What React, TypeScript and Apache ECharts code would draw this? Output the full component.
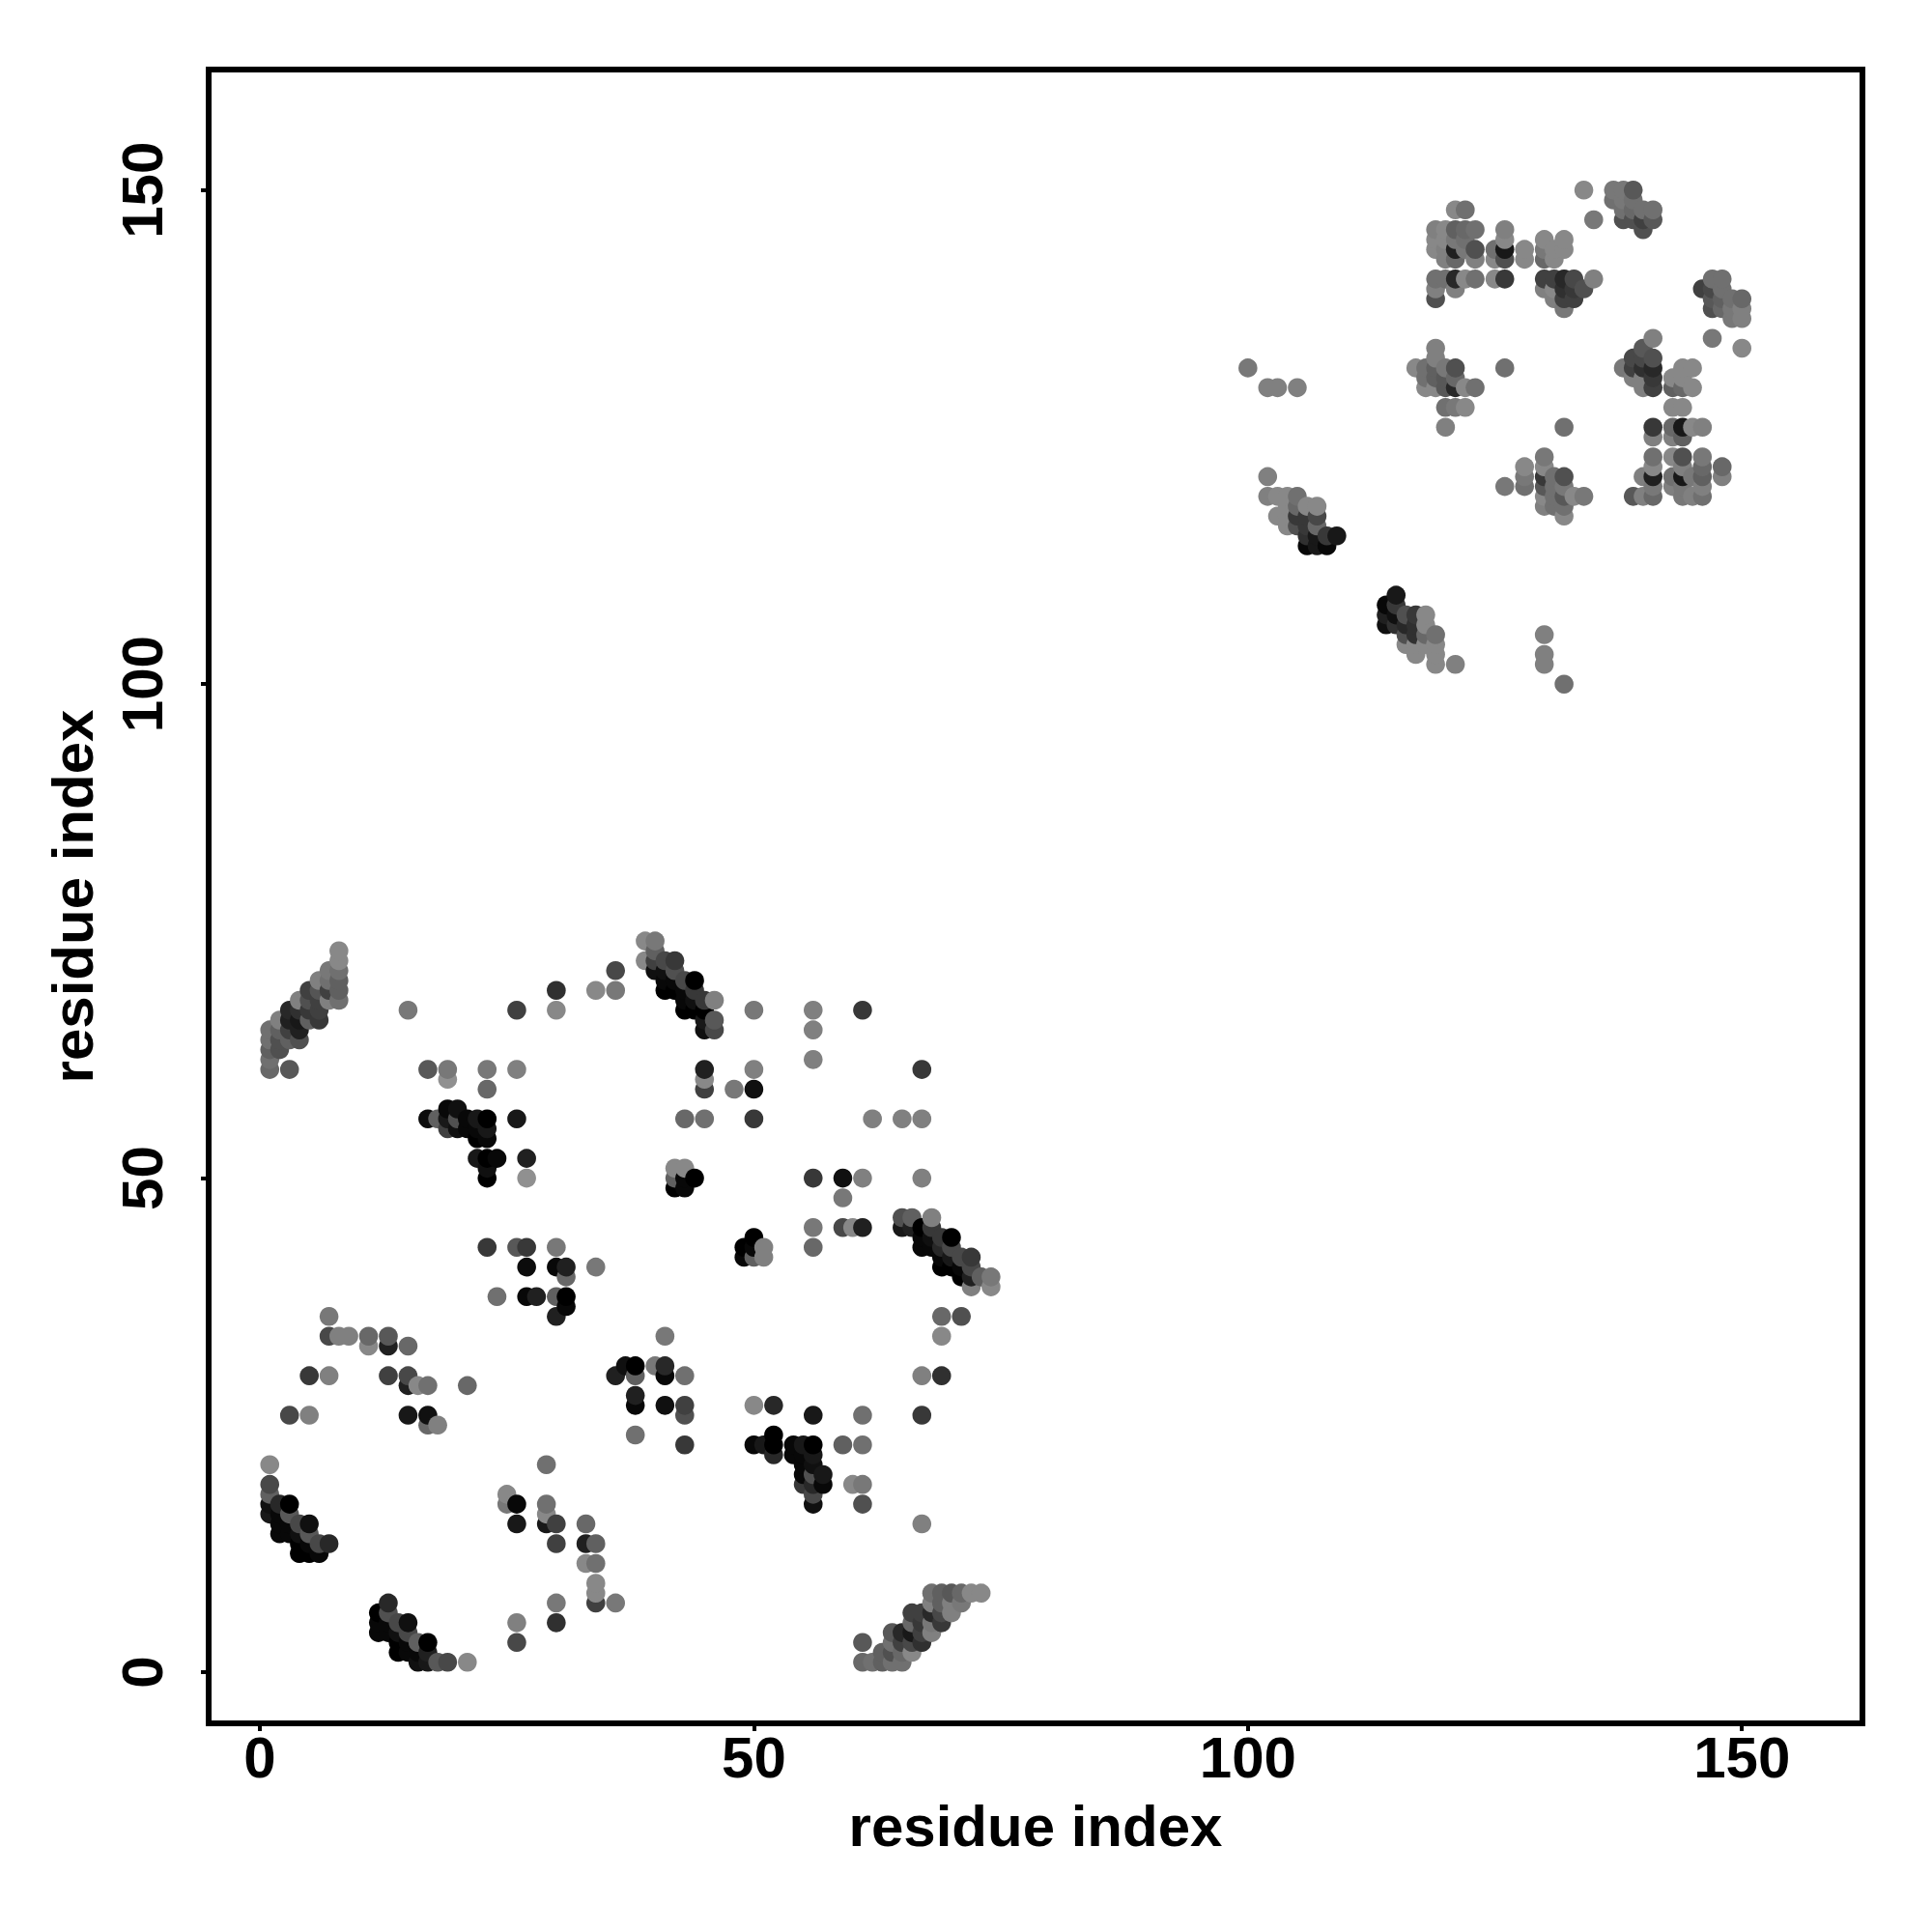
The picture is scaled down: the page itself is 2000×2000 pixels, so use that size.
import React, { useEffect, useRef } from "react";
import * as echarts from "echarts";

// [residue i, residue j, grey level]
const blockTopLeft: number[][] = [
  [8,73,0x88],[8,72,0x88],[8,71,0x70],[8,70,0x60],[8,69,0x60],[8,68,0x70],[7,71,0x78],[7,70,0x70],[7,69,0x40],[7,68,0x80],
  [6,70,0x80],[6,69,0x55],[6,68,0x40],[6,67,0x40],[6,66,0x38],[5,69,0x40],[5,68,0x50],[5,67,0x38],[5,66,0x60],
  [4,68,0x80],[4,67,0x30],[4,66,0x18],[4,65,0x20],[4,64,0x50],[3,67,0x28],[3,66,0x20],[3,65,0x40],[3,64,0x60],[3,61,0x58],
  [2,66,0x80],[2,65,0x60],[2,64,0x50],[2,63,0x50],[1,65,0x70],[1,64,0x70],[1,63,0x60],[1,62,0x70],[1,61,0x68],
];
const scatterUpperA: number[][] = [
  [15,67,0x78],[26,67,0x40],[30,67,0x88],[30,69,0x30],[34,69,0x88],[36,69,0x78],[36,71,0x48],
  [17,61,0x58],[19,61,0x78],[19,60,0x90],[23,61,0x78],[23,59,0x68],[26,61,0x80],[26,56,0x18],
  [27,52,0x20],[27,50,0x90],
];
const blockMid: number[][] = [
  [17,56,0x0c],[18,56,0x60],[19,57,0x08],[20,57,0x10],[19,56,0x18],[20,56,0x50],[19,55,0x40],[20,55,0x10],[21,56,0x08],[22,56,0x18],
  [23,56,0x00],[21,55,0x08],[22,55,0x08],[23,55,0x18],[22,54,0x00],[23,54,0x08],[22,52,0x18],[23,52,0x00],[24,52,0x08],[23,51,0x10],[23,50,0x00],
];
const scatterMid: number[][] = [
  [23,43,0x38],[26,43,0x58],[27,43,0x38],[30,43,0x78],[27,41,0x0c],[30,41,0x08],[31,41,0x20],[31,40,0x68],[34,41,0x78],
  [24,38,0x70],[27,38,0x08],[28,38,0x20],[30,38,0x60],[31,38,0x00],[31,37,0x08],[30,36,0x20],
  [7,36,0x78],[7,34,0x48],[8,34,0x80],[9,34,0x80],[11,34,0x68],[11,33,0x88],[13,34,0x58],[13,33,0x20],[15,33,0x68],
  [5,30,0x38],[7,30,0x80],[13,30,0x40],[15,30,0x48],[15,29,0x20],[16,29,0x88],[17,29,0x70],[21,29,0x68],
  [3,26,0x48],[5,26,0x80],[15,26,0x18],[17,26,0x10],[17,25,0x68],[18,25,0x80],
];
const blockDiagUpper: number[][] = [
  [39,74,0x88],[40,74,0x78],[39,72,0x88],[40,73,0x60],[40,72,0x40],[41,72,0x48],[42,72,0x38],[40,71,0x10],[41,71,0x10],[42,71,0x50],
  [41,70,0x08],[42,70,0x08],[43,70,0x48],[44,70,0x00],[41,69,0x00],[42,69,0x00],[43,69,0x08],[44,69,0x38],[43,68,0x08],[43,67,0x00],
  [44,68,0x10],[45,68,0x38],[46,68,0x80],[44,67,0x00],[45,67,0x00],[45,66,0x18],[46,66,0x58],[45,65,0x10],[46,65,0x48],
];
const scatterUpperB: number[][] = [
  [50,67,0x78],[56,67,0x80],[56,65,0x80],[56,62,0x80],[61,67,0x38],[45,61,0x20],[45,60,0x88],[45,59,0x40],[50,61,0x80],[50,59,0x10],[48,59,0x78],[67,61,0x38],
  [43,56,0x68],[45,56,0x70],[50,56,0x38],[62,56,0x80],[65,56,0x80],[67,56,0x80],[43,51,0x88],[42,51,0x88],[44,50,0x00],[43,50,0x08],[43,49,0x08],[42,49,0x00],[42,50,0x60],
  [56,50,0x38],[59,50,0x10],[61,50,0x80],[67,50,0x80],[59,48,0x78],[56,45,0x78],[56,43,0x68],[59,45,0x48],[60,45,0x88],[61,45,0x20],[41,34,0x78],
  [50,44,0x00],[49,43,0x00],[50,43,0x08],[51,43,0x80],[49,42,0x08],[50,42,0x60],[51,42,0x80],
];
const blockDiagMid: number[][] = [
  [65,46,0x50],[66,46,0x60],[68,46,0x80],[65,45,0x18],[66,45,0x20],[67,45,0x00],[68,45,0x38],[67,44,0x08],[68,44,0x10],[69,44,0x38],[70,44,0x00],
  [67,43,0x08],[68,43,0x08],[69,43,0x28],[70,43,0x48],[69,42,0x08],[70,42,0x18],[71,42,0x48],[72,42,0x38],[69,41,0x00],[70,41,0x00],[71,41,0x08],[72,41,0x48],
  [71,40,0x00],[72,40,0x20],[73,40,0x60],[74,40,0x78],[72,39,0x80],[74,39,0x88],[69,36,0x68],[71,36,0x50],[69,34,0x88],[67,30,0x80],[69,30,0x30],
];
const scatterLowerB: number[][] = [
  [43,30,0x70],[43,27,0x40],[43,26,0x50],[43,23,0x38],[50,27,0x88],[52,27,0x28],[56,26,0x18],[61,26,0x70],[67,26,0x38],
  [50,23,0x08],[51,23,0x18],[52,24,0x00],[52,23,0x00],[52,22,0x28],[54,23,0x08],[55,23,0x18],[56,23,0x00],[54,22,0x08],[55,22,0x08],[56,22,0x18],
  [55,21,0x08],[56,21,0x10],[55,20,0x08],[56,20,0x50],[57,20,0x18],[55,19,0x38],[56,19,0x28],[57,19,0x08],[56,18,0x48],[56,17,0x10],
  [59,23,0x60],[61,23,0x70],[60,19,0x88],[61,19,0x78],[61,17,0x50],[67,15,0x80],
];
const blockCornerRight: number[][] = [
  [61,3,0x58],[61,1,0x68],[62,1,0x70],[63,1,0x60],[64,1,0x70],[65,1,0x70],[63,2,0x60],[64,2,0x50],[65,2,0x68],[66,2,0x88],
  [64,3,0x70],[65,3,0x40],[66,3,0x48],[67,3,0x30],[64,4,0x58],[65,4,0x28],[66,4,0x18],[67,4,0x40],[68,4,0x80],
  [66,5,0x68],[67,5,0x38],[68,5,0x78],[69,5,0x38],[66,6,0x40],[67,6,0x40],[68,6,0x28],[69,6,0x48],[70,6,0x80],
  [68,7,0x80],[69,7,0x60],[70,7,0x80],[71,7,0x78],[68,8,0x70],[69,8,0x60],[70,8,0x58],[71,8,0x68],[72,8,0x88],[73,8,0x88],
];
const blockCornerLeft: number[][] = [
  [1,21,0x88],[1,19,0x48],[1,18,0x60],[1,17,0x10],[1,16,0x18],[2,17,0x28],[3,17,0x00],[2,16,0x08],[3,16,0x58],[2,15,0x08],[3,15,0x08],[4,15,0x48],[5,15,0x10],
  [2,14,0x08],[3,14,0x08],[4,14,0x10],[5,14,0x58],[4,13,0x00],[5,13,0x08],[6,13,0x48],[7,13,0x28],[4,12,0x00],[5,12,0x00],[6,12,0x08],
  [13,7,0x28],[12,6,0x00],[13,6,0x50],[12,5,0x08],[13,5,0x08],[14,5,0x48],[15,5,0x10],[12,4,0x08],[13,4,0x08],[14,4,0x10],[15,4,0x48],
  [14,3,0x00],[15,3,0x08],[16,3,0x60],[17,3,0x00],[14,2,0x00],[15,2,0x08],[16,2,0x08],[17,2,0x20],[16,1,0x10],[17,1,0x18],[18,1,0x58],[19,1,0x48],[21,1,0x88],
];
const scatterLowerA: number[][] = [
  [26,5,0x80],[26,3,0x48],[30,7,0x78],[30,5,0x30],[34,7,0x40],[34,8,0x88],[34,9,0x88],[36,7,0x78],[33,11,0x88],[34,11,0x70],[33,13,0x20],[34,13,0x60],[33,15,0x68],
  [30,15,0x40],[29,15,0x18],[29,16,0x88],[29,17,0x70],[29,21,0x70],[30,13,0x40],[25,18,0x88],[25,17,0x78],[26,17,0x08],[26,15,0x18],
  [37,31,0x10],[38,31,0x00],[36,30,0x20],[38,30,0x60],[40,31,0x78],[41,31,0x28],[41,30,0x08],[38,28,0x20],[38,27,0x08],[41,27,0x10],[38,24,0x70],
];
const blockTop: number[][] = [
  [134,150,0x88],[135,147,0x78],[121,148,0x88],[122,148,0x70],[119,146,0x80],[120,146,0x88],[121,146,0x60],[122,146,0x68],[123,146,0x70],[126,146,0x80],
  [119,145,0x88],[120,145,0x88],[121,145,0x78],[122,145,0x70],[126,145,0x88],[119,144,0x88],[120,144,0x80],[121,144,0x20],[122,144,0x78],[123,144,0x50],[125,144,0x70],[126,144,0x18],
  [120,143,0x80],[121,143,0x68],[123,143,0x80],[125,143,0x88],[126,143,0x50],[119,141,0x70],[120,141,0x70],[121,141,0x28],[122,141,0x88],[123,141,0x70],[125,141,0x88],[126,141,0x38],
  [119,140,0x80],[121,140,0x80],[119,139,0x50],[128,144,0x88],[128,143,0x88],
  [130,145,0x88],[132,145,0x88],[130,144,0x78],[131,144,0x88],[132,144,0x88],[130,143,0x68],[131,143,0x88],
  [130,141,0x40],[131,141,0x40],[132,141,0x28],[133,141,0x48],[135,141,0x80],[130,140,0x80],[131,140,0x88],[132,140,0x30],[133,140,0x38],[134,140,0x50],[131,139,0x80],[132,139,0x40],[133,139,0x40],[132,138,0x78],
];
const blockCentre: number[][] = [
  [100,132,0x78],[102,130,0x80],[103,130,0x80],[105,130,0x80],[119,134,0x80],[119,133,0x80],[117,132,0x88],[118,132,0x70],[119,132,0x60],[120,132,0x78],[121,132,0x50],
  [118,131,0x70],[119,131,0x60],[120,131,0x58],[121,131,0x68],[118,130,0x88],[119,130,0x88],[120,130,0x58],[121,130,0x28],[122,130,0x88],[123,130,0x70],
  [120,128,0x70],[121,128,0x78],[122,128,0x88],[120,126,0x80],[126,132,0x70],[132,126,0x70],
  [130,123,0x78],[128,122,0x88],[130,122,0x88],[128,121,0x78],[130,121,0x38],[131,121,0x70],[132,121,0x50],[126,120,0x78],[128,120,0x70],[130,120,0x58],[131,120,0x70],[132,120,0x78],
  [130,119,0x88],[131,119,0x70],[132,119,0x58],[133,119,0x88],[134,119,0x78],[130,118,0x80],[131,118,0x70],[132,118,0x70],[132,117,0x88],
];
const blockRight: number[][] = [
  [137,150,0x78],[138,150,0x78],[139,150,0x58],[137,149,0x70],[138,149,0x78],[139,149,0x70],[138,148,0x70],[139,148,0x68],[140,148,0x70],[141,148,0x70],
  [138,147,0x50],[139,147,0x50],[140,147,0x40],[141,147,0x58],[140,146,0x50],
  [147,141,0x70],[148,141,0x70],[146,140,0x40],[147,140,0x48],[148,140,0x70],[147,139,0x58],[148,139,0x60],[149,139,0x70],[150,139,0x68],[147,138,0x50],[148,138,0x68],[149,138,0x78],[150,138,0x80],[149,137,0x78],[150,137,0x80],[147,135,0x78],[150,134,0x88],
  [141,135,0x80],[140,134,0x58],[139,133,0x48],[140,133,0x48],[141,133,0x50],[138,132,0x78],[139,132,0x40],[140,132,0x30],[141,132,0x28],[139,131,0x80],[140,131,0x80],[141,131,0x38],[140,130,0x80],[141,130,0x40],
  [144,132,0x88],[145,132,0x88],[143,131,0x88],[144,131,0x88],[143,130,0x60],[144,130,0x68],[145,130,0x88],[143,128,0x88],[144,128,0x88],
  [141,126,0x38],[141,125,0x80],[143,126,0x68],[144,126,0x18],[145,126,0x88],[146,126,0x80],[143,125,0x80],[144,125,0x60],
  [141,123,0x70],[141,122,0x88],[143,123,0x88],[144,123,0x50],[146,123,0x78],[144,122,0x80],[146,122,0x68],[148,122,0x68],[148,121,0x80],[140,121,0x80],[141,121,0x20],[143,121,0x70],[144,121,0x18],[145,121,0x78],[146,121,0x60],
  [141,120,0x78],[143,120,0x80],[144,120,0x78],[146,120,0x80],[139,119,0x58],[140,119,0x80],[141,119,0x68],[144,119,0x78],[145,119,0x80],[146,119,0x70],
];
const blockHelixA: number[][] = [
  [102,121,0x80],[102,119,0x80],[103,119,0x88],[104,119,0x88],[105,119,0x70],[104,118,0x88],[105,118,0x68],[106,118,0x88],[107,118,0x88],[103,117,0x88],[104,117,0x88],[105,117,0x38],[106,117,0x38],[107,117,0x48],
  [104,116,0x88],[105,116,0x50],[106,116,0x38],[107,116,0x68],[106,115,0x30],[107,115,0x18],[108,115,0x38],[109,115,0x18],[106,114,0x08],[107,114,0x18],[108,114,0x08],
];
const blockHelixB: number[][] = [
  [115,109,0x18],[114,108,0x08],[115,108,0x38],[114,107,0x20],[115,107,0x10],[116,107,0x50],[117,107,0x38],[118,107,0x88],[114,106,0x10],[115,106,0x30],[116,106,0x28],[117,106,0x30],[118,106,0x88],
  [116,105,0x50],[117,105,0x30],[118,105,0x68],[119,105,0x70],[116,104,0x88],[117,104,0x88],[118,104,0x88],[119,104,0x88],[117,103,0x88],[119,103,0x88],[119,102,0x88],[121,102,0x80],
  [130,105,0x80],[130,103,0x80],[130,102,0x80],[132,100,0x70],
];

const tickValues = [0, 50, 100, 150];
const axisTitle = "residue index";

const allPoints = [
  blockTopLeft, scatterUpperA, blockMid, scatterMid, blockDiagUpper, scatterUpperB, blockDiagMid, scatterLowerB,
  blockCornerRight, blockCornerLeft, scatterLowerA, blockTop, blockCentre, blockRight, blockHelixA, blockHelixB,
].flat().sort((a, b) => a[0] - b[0] || a[1] - b[1]);

const font = "'Liberation Sans', Arial, sans-serif";

function axis(extra: object) {
  return {
    type: "value",
    min: -5.183,
    max: 162.2,
    name: axisTitle,
    nameLocation: "middle",
    nameTextStyle: { fontFamily: font, fontWeight: "bold", fontSize: 60, color: "#000" },
    axisLine: { show: false, onZero: false },
    splitLine: { show: false },
    axisTick: { show: true, length: 8, customValues: tickValues, lineStyle: { color: "#000", width: 4 } },
    ...extra,
  };
}

export default function App() {
  const ref = useRef<HTMLDivElement>(null);
  useEffect(() => {
    const chart = echarts.init(ref.current!, undefined, { renderer: "svg" });
    const labelBase = { customValues: tickValues, fontFamily: font, fontWeight: "bold", fontSize: 60, color: "#000" };
    chart.setOption({
      animation: false,
      backgroundColor: "#fff",
      grid: { left: 216, top: 72, width: 1712, height: 1712, show: true, borderColor: "#000", borderWidth: 6, backgroundColor: "transparent" },
      xAxis: axis({ nameGap: 76, axisLabel: { ...labelBase, margin: 5 } }),
      yAxis: axis({ nameGap: 111, axisLabel: { ...labelBase, rotate: 90, margin: 39 } }),
      series: [{
        type: "scatter",
        symbol: "circle",
        symbolSize: 19.6,
        data: allPoints,
        encode: { x: 0, y: 1 },
        itemStyle: { opacity: 1, color: (p: any) => { const g = p.value[2]; return `rgb(${g},${g},${g})`; } },
      }],
    });
    return () => chart.dispose();
  }, []);
  return <div ref={ref} style={{ position: "absolute", left: 0, top: 0, width: 2000, height: 2000 }} />;
}
